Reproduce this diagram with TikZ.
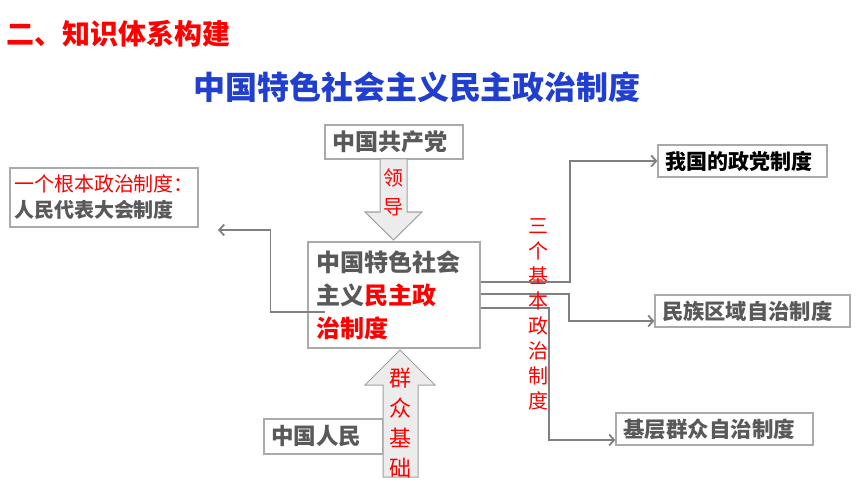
\documentclass[tikz,border=0pt]{standalone}
\usepackage{fontspec}
\setmainfont{Noto Sans CJK SC}
\usetikzlibrary{arrows.meta}
\definecolor{titleblue}{RGB}{32,62,208}
\definecolor{txtgray}{RGB}{89,89,89}
\definecolor{boxgray}{RGB}{170,170,170}
\definecolor{linegray}{RGB}{128,128,128}
\definecolor{arrowfill}{RGB}{236,236,236}
\definecolor{arrowline}{RGB}{160,160,160}
\tikzset{
  sysbox/.style={draw=boxgray, line width=1.2pt, fill=white, text=txtgray,
    font=\bfseries\fontsize{22}{26}\selectfont, inner xsep=7pt, inner ysep=0pt,
    minimum height=32pt, align=left},
  link/.style={draw=linegray, line width=1.8pt, -{Straight Barb[length=5pt,width=11pt]}},
  blockarrow/.style={fill=arrowfill, draw=arrowline, line width=1pt},
  redword/.style={text=red, align=center, inner sep=0pt},
}
\begin{document}
\begin{tikzpicture}[x=1pt,y=-1pt]
  \useasboundingbox (0,0) rectangle (860,484);
  % 見出し
  \node[anchor=west, text=red, font=\bfseries\fontsize{28}{30}\selectfont, inner sep=0pt] (head) at (6,34) {二、知识体系构建};
  % タイトル
  \node[text=titleblue, font=\bfseries\fontsize{32}{34}\selectfont, inner sep=0pt] (title) at (417,87) {中国特色社会主义民主政治制度};
  % 中央の制度
  \node[sysbox, text width=156pt, inner xsep=8pt, minimum height=106pt,
    font=\bfseries\fontsize{24}{33}\selectfont] (core) at (394,295)
    {中国特色社会\\主义\textcolor{red}{民主政}\\\textcolor{red}{治制度}};
  % 上と下の箱
  \node[sysbox, text width=124pt, minimum height=34pt, font=\bfseries\fontsize{23}{26}\selectfont] (cpc) at (394,142) {中国共产党};
  \node[sysbox, text width=105pt, minimum height=35pt, font=\bfseries\fontsize{22.5}{26}\selectfont] (people) at (323.5,436.5) {中国人民};
  % 根本政治制度
  \node[sysbox, text width=180pt, inner xsep=4pt, minimum height=59pt, font=\fontsize{20}{26}\selectfont] (root) at (104,197.5)
    {\textcolor{red}{一个根本政治制度：}\\\textbf{人民代表大会制度}};
  % 三つの基本政治制度
  \node[sysbox, text=black, text width=155pt, font=\bfseries\fontsize{21}{26}\selectfont] (party) at (742.5,161) {我国的政党制度};
  \node[sysbox, text width=181pt, font=\bfseries\fontsize{21.3}{26}\selectfont] (ethnic) at (752.5,311) {民族区域自治制度};
  \node[sysbox, text width=183pt, font=\bfseries\fontsize{21.5}{26}\selectfont] (grass) at (714.5,429) {基层群众自治制度};
  % 領導の矢印
  \draw[blockarrow] (380,159) -- (407,159) -- (407,212) -- (422,212) -- (393.5,240) -- (365,212) -- (380,212) -- cycle;
  \node[redword, font=\fontsize{20}{29}\selectfont] (lead) at (393.5,192.5) {领\\导};
  % 群衆基礎の矢印
  \draw[blockarrow] (383,477) -- (418,477) -- (418,385) -- (435,385) -- (400,350) -- (365,385) -- (383,385) -- cycle;
  \node[redword, font=\fontsize{22}{30}\selectfont] (base) at (400,423) {群\\众\\基\\础};
  % 接続線
  \coordinate (rootin) at (218,230);
  \draw[link] ([xshift=18pt,yshift=-17pt]core.west) -- ++(-55,0) |- (rootin);
  \draw[link] ([yshift=13pt]core.east) -- ++(89,0) |- (party.west);
  \draw[link] ([yshift=1pt]core.east) -- ++(88,0) |- ([yshift=-10pt]ethnic.west);
  \draw[link] ([yshift=-13pt]core.east) -- ++(68,0) |- ([yshift=-11pt]grass.west);
  % 縦書きの説明
  \node[redword, font=\fontsize{20}{25}\selectfont] (three) at (538,314.5) {三\\个\\基\\本\\政\\治\\制\\度};
\end{tikzpicture}
\end{document}
